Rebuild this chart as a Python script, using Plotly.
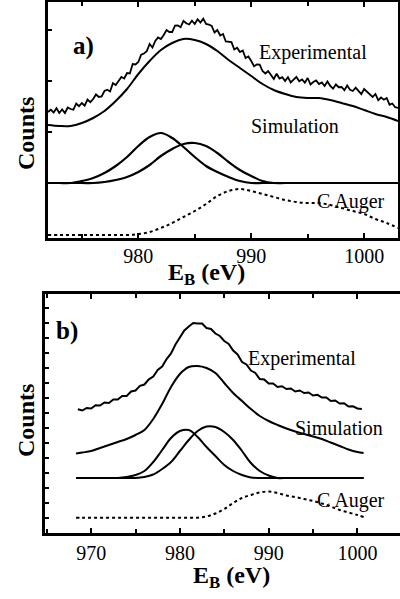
import plotly.graph_objects as go

# ---------------- Panel a) data ----------------
exp_a_E = [972, 972.25, 972.5, 972.75, 973, 973.25, 973.5, 973.75, 974, 974.25, 974.5, 974.75,
           975, 975.25, 975.5, 975.75, 976, 976.25, 976.5, 976.75, 977, 977.25, 977.5, 977.75,
           978, 978.25, 978.5, 978.75, 979, 979.25, 979.5, 979.75, 980, 980.25, 980.5, 980.75,
           981, 981.25, 981.5, 981.75, 982, 982.25, 982.5, 982.75, 983, 983.25, 983.5, 983.75,
           984, 984.25, 984.5, 984.75, 985, 985.25, 985.5, 985.75, 986, 986.25, 986.5, 986.75,
           987, 987.25, 987.5, 987.75, 988, 988.25, 988.5, 988.75, 989, 989.25, 989.5, 989.75,
           990, 990.25, 990.5, 990.75, 991, 991.25, 991.5, 991.75, 992, 992.25, 992.5, 992.75,
           993, 993.25, 993.5, 993.75, 994, 994.25, 994.5, 994.75, 995, 995.25, 995.5, 995.75,
           996, 996.25, 996.5, 996.75, 997, 997.25, 997.5, 997.75, 998, 998.25, 998.5, 998.75,
           999, 999.25, 999.5, 999.75, 1000, 1000.25, 1000.5, 1000.75, 1001, 1001.25, 1001.5,
           1001.75, 1002, 1002.25, 1002.5, 1002.75, 1003]
exp_a = [126, 128.3, 125.5, 129.8, 125, 128.5, 125, 130.5, 129, 128.3, 134.5, 131.8,
         135, 132.3, 138.5, 135.8, 139, 143.5, 141, 141.5, 147, 148.3, 146.5, 154.8,
         153, 156.5, 161, 159.5, 165, 164.5, 174, 173.5, 176, 183.3, 184.5, 186.8,
         194, 190.5, 197, 200.5, 199, 203, 208, 206, 206, 212.3, 212.5, 210.8,
         217, 214.8, 213.5, 217.3, 214, 218.8, 215.5, 219.3, 214, 213.5, 212, 205.5,
         208, 202.5, 204, 196.5, 196, 195.8, 188.5, 190.3, 186, 187.5, 180, 181.5,
         177, 171.8, 173.5, 173.3, 167, 164.5, 167, 163.5, 159, 164.3, 159.5, 160.8,
         157, 160.8, 155.5, 158.3, 161, 156.8, 158.5, 155.3, 160, 153.5, 156, 157.5,
         154, 155.5, 152, 156.5, 152, 149.3, 153.5, 150.8, 151, 147.8, 152.5, 148.3,
         147, 150.3, 147.5, 143.8, 149, 146, 143, 141, 144, 137.8, 140.5,
         138.3, 140, 133.3, 134.5, 130.8, 130]

E_a = [972, 973, 974, 975, 976, 977, 978, 979, 980, 981, 982, 983, 984, 985, 986, 987,
       988, 989, 990, 991, 992, 993, 994, 995, 996, 997, 998, 999, 1000, 1001, 1002, 1003]
sim_a = [113, 112, 112, 115, 120, 127, 137, 149, 164, 177, 188, 195, 199, 198, 194, 187,
         178, 170, 162, 154, 148, 144, 141, 140, 140, 138, 135, 132, 128, 124, 121, 117]
comp1_a = [55, 55, 55, 57, 60, 65, 72, 81, 92, 101, 105, 100, 91, 81, 72, 66,
           61, 57, 55, 55, 55, 55, 55, 55, 55, 55, 55, 55, 55, 55, 55, 55]
comp2_a = [55, 55, 55, 55, 55, 56, 58, 61, 66, 73, 82, 89, 94, 95, 92, 85,
           76, 68, 62, 57, 55, 55, 55, 55, 55, 55, 55, 55, 55, 55, 55, 55]
auger_a = [3, 3, 3, 3, 3, 3, 3, 3, 4, 6, 10, 15, 21, 27, 34, 42,
           47, 49, 47, 44, 41, 38, 36, 35, 35, 33, 30, 27, 24, 19, 15, 10]

# ---------------- Panel b) data ----------------
exp_b_E = [968.5, 969, 969.5, 970, 970.5, 971, 971.5, 972, 972.5, 973, 973.5, 974, 974.5, 975,
           975.5, 976, 976.5, 977, 977.5, 978, 978.5, 979, 979.5, 980, 980.5, 981, 981.5, 982,
           982.5, 983, 983.5, 984, 984.5, 985, 985.5, 986, 986.5, 987, 987.5, 988, 988.5, 989,
           989.5, 990, 990.5, 991, 991.5, 992, 992.5, 993, 993.5, 994, 994.5, 995, 995.5, 996,
           996.5, 997, 997.5, 998, 998.5, 999, 999.5, 1000, 1000.5]
exp_b = [123.8, 122.5, 125, 124.5, 127.8, 127.5, 130.5, 130, 133.5, 133.5, 137, 137, 141.5, 142.5,
         147.2, 148.5, 153.7, 156.5, 163, 166.5, 174, 179.5, 188.5, 195.5, 202.5, 206.5, 210, 209.5,
         209.5, 205, 204, 199.5, 197, 192, 189, 182.5, 178.5, 171, 168.5, 162.5, 160, 154,
         153.5, 149.5, 149.5, 146, 146.8, 144, 144.5, 141.5, 142.5, 140, 140.5, 137.5, 138.2, 135.5,
         135.5, 132, 132.5, 129.5, 129.8, 126.5, 126.7, 124.5, 124]

E_b = [968.3, 969, 970, 971, 972, 973, 974, 975, 976, 977, 978, 979, 980, 981, 982, 983, 984,
       985, 986, 987, 988, 989, 990, 991, 992, 993, 994, 995, 996, 997, 998, 999, 1000, 1000.7]
sim_b = [79.5, 80.5, 82, 85, 88, 91, 94, 98, 103, 114, 129, 146, 159, 166, 167, 165, 160,
         150, 140, 132, 124, 117, 112, 108, 104.5, 101.5, 99, 96.5, 94, 90.5, 87, 83.5, 81, 80]
comp1_b = [55, 55, 55, 55, 55, 55, 56, 58, 62, 71, 83, 95, 102, 103, 96, 86, 77,
           68, 62, 58, 55.5, 55, 55, 55, 55, 55, 55, 55, 55, 55, 55, 55, 55, 55]
comp2_b = [55, 55, 55, 55, 55, 55, 55, 55, 56, 58.5, 64, 71, 82, 93, 102, 106.5, 106,
           101, 93, 82, 70, 62, 57.5, 55, 55, 55, 55, 55, 55, 55, 55, 55, 55, 55]
auger_b = [15.3, 15.3, 15.3, 15.3, 15.3, 15.3, 15.3, 15.3, 15.3, 15.3, 15.3, 15.3, 15.3, 15.3, 15.3, 16.5, 19.5,
           24, 30, 35, 38, 40.5, 41.5, 40, 37.5, 36, 34, 32, 29.5, 26.5, 23, 20.5, 18, 16]

major_ticks = [970, 980, 990, 1000]
major_text = ["970", "980", "990", "1000"]

BLACK = "black"
SERIF = "Liberation Serif"

fig = go.Figure()

def add_line(x, y, xa, ya, dash="solid", width=2.0, shape="linear"):
    fig.add_trace(go.Scatter(x=x, y=y, xaxis=xa, yaxis=ya, mode="lines",
                             line=dict(color=BLACK, width=width, dash=dash, shape=shape),
                             showlegend=False, hoverinfo="skip"))

# panel a
add_line(exp_a_E, exp_a, "x", "y", width=1.8)
add_line(E_a, sim_a, "x", "y", shape="spline")
add_line(E_a, comp1_a, "x", "y", shape="spline", width=2.2)
add_line(E_a, comp2_a, "x", "y", shape="spline", width=2.2)
add_line(E_a, auger_a, "x", "y", dash="dot", shape="spline")
# panel b
add_line(exp_b_E, exp_b, "x2", "y2", width=2.0)
add_line(E_b, sim_b, "x2", "y2", shape="spline")
add_line(E_b, comp1_b, "x2", "y2", shape="spline")
add_line(E_b, comp2_b, "x2", "y2", shape="spline")
add_line(E_b, auger_b, "x2", "y2", dash="dot", shape="spline")

W, H = 400, 599
def px(x):
    return x / W
def py(y):
    return 1 - y / H

axis_common = dict(showgrid=False, zeroline=False, showline=True, linecolor=BLACK,
                   linewidth=2.5, ticks="inside", tickcolor=BLACK, tickwidth=1.5)
minor_x = dict(dtick=5, ticks="inside", ticklen=4, tickcolor=BLACK, tickwidth=1.5, showgrid=False)

fig.update_layout(
    width=W, height=H, margin=dict(l=0, r=0, t=0, b=0),
    paper_bgcolor="white", plot_bgcolor="white",
    font=dict(family=SERIF, color=BLACK, size=20),
    xaxis=dict(domain=[px(48), px(398)], range=[972, 1003], anchor="y",
               tickvals=major_ticks, ticktext=major_text, ticklen=5, mirror="ticks",
               minor=minor_x,
               tickfont=dict(family=SERIF, size=20, color=BLACK), ticklabelstandoff=-2,
               **axis_common),
    yaxis=dict(domain=[py(238), py(2)], range=[0, 236], anchor="x",
               tickvals=[55, 106, 157, 208], showticklabels=False, ticklen=4, mirror=True,
               **axis_common),
    xaxis2=dict(domain=[px(45), 1.0], range=[964.8, 1004.8], anchor="y2",
                tickvals=major_ticks, ticktext=major_text, ticklen=5, mirror="ticks",
                minor=minor_x,
                tickfont=dict(family=SERIF, size=20, color=BLACK), ticklabelstandoff=0,
                **axis_common),
    yaxis2=dict(domain=[py(533), py(294)], range=[0, 239], anchor="x2",
                tick0=0, dtick=15, showticklabels=False, ticklen=4, mirror=False,
                **axis_common),
)

def note(text, x, y, size=20, bold=False, angle=0):
    if bold:
        text = "<b>" + text + "</b>"
    fig.add_annotation(text=text, xref="paper", yref="paper", x=px(x), y=py(y),
                       xanchor="center", yanchor="middle", showarrow=False,
                       textangle=angle, font=dict(family=SERIF, size=size, color=BLACK))

note("a)", 83, 46, size=25, bold=True)
note("Experimental", 313, 53)
note("Simulation", 295, 126)
note("C Auger", 351, 201)
note("Counts", 26, 134, size=24, bold=True, angle=-90)
note("E<sub>B</sub> (eV)", 206, 274, size=24, bold=True)

note("b)", 67, 331, size=25, bold=True)
note("Experimental", 302, 358)
note("Simulation", 339, 428)
note("C Auger", 351, 500)
note("Counts", 26, 421, size=24, bold=True, angle=-90)
note("E<sub>B</sub> (eV)", 232, 577, size=24, bold=True)

fig.write_html("out.html", config={"displayModeBar": False},
               post_script="document.body.style.margin='0px';document.body.style.overflow='hidden';")
